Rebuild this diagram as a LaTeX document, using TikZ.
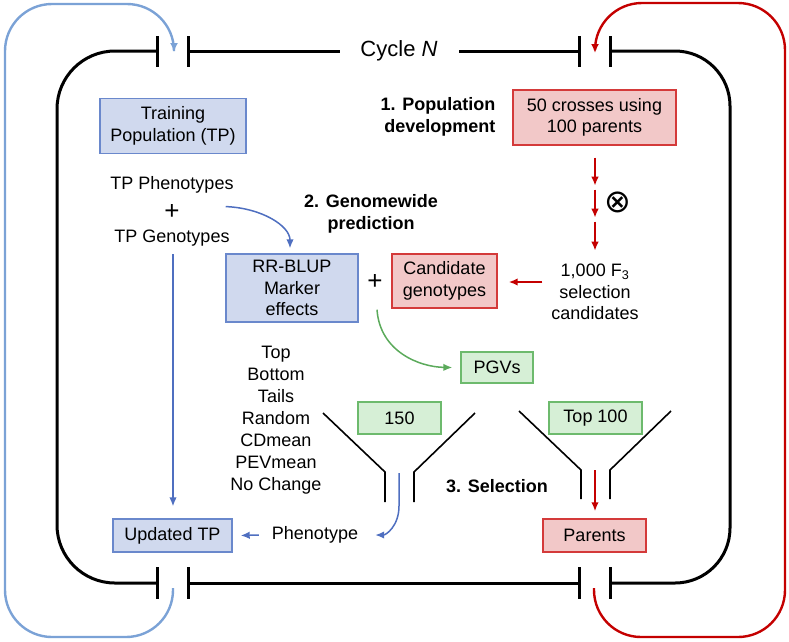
\documentclass[tikz,border=0pt]{standalone}
\usepackage{fontspec}
\setmainfont{Liberation Sans}
\newfontfamily\dejavu{DejaVu Sans}
\usetikzlibrary{arrows.meta,calc}
\definecolor{bfill}{HTML}{D0D9EE}
\definecolor{bdraw}{HTML}{6A88CC}
\definecolor{rfill}{HTML}{F2C8C8}
\definecolor{rdraw}{HTML}{D43A3A}
\definecolor{gfill}{HTML}{D6EFD6}
\definecolor{gdraw}{HTML}{6DBA6D}
\definecolor{bloop}{HTML}{7BA2D6}
\definecolor{rloop}{HTML}{C40000}
\definecolor{barr}{HTML}{4F6FC0}
\definecolor{garr}{HTML}{5BAA5B}
\tikzset{
  txt/.style={font=\fontsize{18}{21.5}\selectfont, align=center, inner sep=0pt},
  bold/.style={txt, font=\fontsize{18}{21.5}\selectfont\bfseries},
  box/.style={txt, draw, line width=1.4pt, minimum width=#1},
  bluebox/.style={box=#1, fill=bfill, draw=bdraw},
  redbox/.style={box=#1, fill=rfill, draw=rdraw},
  greenbox/.style={box=#1, fill=gfill, draw=gdraw},
  cyc/.style={line width=3pt, black},
  bar/.style={line width=3pt, black},
  funnel/.style={line width=1.6pt, black},
  bigtip/.style={-{Latex[length=9pt,width=8pt]}},
  smalltip/.style={-{Latex[length=9pt,width=7.5pt]}},
  bluearr/.style={smalltip, barr, line width=1.5pt},
  redarr/.style={smalltip, rloop, line width=2pt},
  greenarr/.style={smalltip, garr, line width=1.5pt},
}
\begin{document}
\begin{tikzpicture}[x=1pt,y=-1pt]
\useasboundingbox (0,0) rectangle (789,641);

% main cycle
\draw[cyc, rounded corners=58] (157,51) -- (57,51) -- (57,583) -- (157,583);
\draw[cyc, rounded corners=55] (610,51) -- (730,51) -- (730,583) -- (610,583);
\node[txt, font=\fontsize{22}{26}\selectfont] (cyc) at (399,51) {Cycle \textit{N}};
\draw[cyc] (188,51) -- (340,51);
\draw[cyc] (459,51) -- (579,51);
\draw[cyc] (188,583) -- (579,583);
\foreach \x in {157,188,579,610}{
  \draw[bar] (\x,36) -- (\x,67);
  \draw[bar] (\x,567) -- (\x,599);
}

% outer loops
\coordinate (btop) at (174,52);
\coordinate (bbot) at (173,588);
\coordinate (rtop) at (595,53);
\coordinate (rbot) at (594,588);
\draw[bloop, line width=2.4pt, bigtip, rounded corners=47]
  (bbot) -- (173,637) -- (5,637) -- (5,4) -- (174,4) -- (btop);
\draw[rloop, line width=2.4pt, bigtip, rounded corners=47]
  (rbot) -- (594,637) -- (785,637) -- (785,3) -- (595,3) -- (rtop);

% nodes
\node[bluebox=146pt, minimum height=55pt] (tp) at (173,126) {Training\\Population (TP)};
\node[bold] (s1) at (438,117) {\begin{tabular}{@{}r@{}}1. Population\\development\end{tabular}};
\node[redbox=163pt, minimum height=55pt] (cross) at (594.5,117.5) {50 crosses using\\100 parents};

\node[txt] (pheno) at (172,185) {TP Phenotypes};
\node[txt, font=\fontsize{26}{26}\selectfont] (plus1) at (172,212) {+};
\node[txt] (geno) at (172,238) {TP Genotypes};

\node[bold] (s2) at (371,214) {2. Genomewide\\prediction};
\node[bluebox=132pt, minimum height=68pt] (rr) at (292,288) {RR-BLUP\\Marker\\effects};
\node[txt, font=\fontsize{26}{26}\selectfont] (plus2) at (375,282) {+};
\node[redbox=105pt, minimum height=54pt] (cand) at (444.5,281) {Candidate\\genotypes};
\node[txt] (f3) at (595,292) {1,000 F\textsubscript{3}\\selection\\candidates};

\node[txt, font=\fontsize{32}{32}\selectfont\dejavu] (ox) at (618,202) {⊗};

\node[greenbox=72pt, minimum height=31pt] (pgv) at (497,367.5) {PGVs};
\node[txt, font=\fontsize{18}{22}\selectfont] (strat) at (276,420) {Top\\Bottom\\Tails\\Random\\CDmean\\PEVmean\\No Change};

\node[greenbox=83pt, minimum height=32pt] (n150) at (399.5,418) {150};
\node[greenbox=93pt, minimum height=32pt] (top100) at (595.5,418) {Top 100};
\node[bold] (s3) at (497,486) {3. Selection};

\node[redbox=103pt, minimum height=33pt] (par) at (594.5,535.5) {Parents};
\node[bluebox=119pt, minimum height=33pt] (upd) at (172.5,535.5) {Updated TP};
\node[txt] (phen) at (315,535) {Phenotype};

% funnels
\draw[funnel] (323,413) -- (385,472) -- (385,502);
\draw[funnel] (475,413) -- (414,472) -- (414,502);
\draw[funnel] (519,411) -- (581,470) -- (581,499);
\draw[funnel] (671,411) -- (610,470) -- (610,499);

% arrows
\draw[redarr] ($(cross.south)+(0.5,12)$) -- ++(0,28);
\draw[redarr] ($(cross.south)+(0.5,44)$) -- ++(0,28);
\draw[redarr] ($(cross.south)+(0.5,76)$) -- ++(0,29);
\draw[redarr] ($(f3.west)+(-9,-10)$) -- ($(cand.east)+(11,1)$);

\draw[bluearr] ($(pheno.south east)+(-8,13)$) .. controls (262,208) and (290,226) .. ($(rr.north)+(-2,-5)$);
\draw[bluearr] ($(geno.south)+(1,8)$) -- ($(upd.north)+(0.5,-12)$);
\draw[greenarr] ($(plus2.south)+(2,20)$) .. controls (380,352) and (420,367) .. ($(pgv.west)+(-8,0)$);
\draw[bluearr] (399,473) -- (399,506) .. controls (399,526) and (386,535) .. ($(phen.east)+(17,0)$);
\draw[bluearr] ($(phen.west)+(-13,0)$) -- ($(upd.east)+(8,0)$);
\draw[redarr] (595,470) -- ($(par.north)+(0.5,-7)$);
\end{tikzpicture}
\end{document}
